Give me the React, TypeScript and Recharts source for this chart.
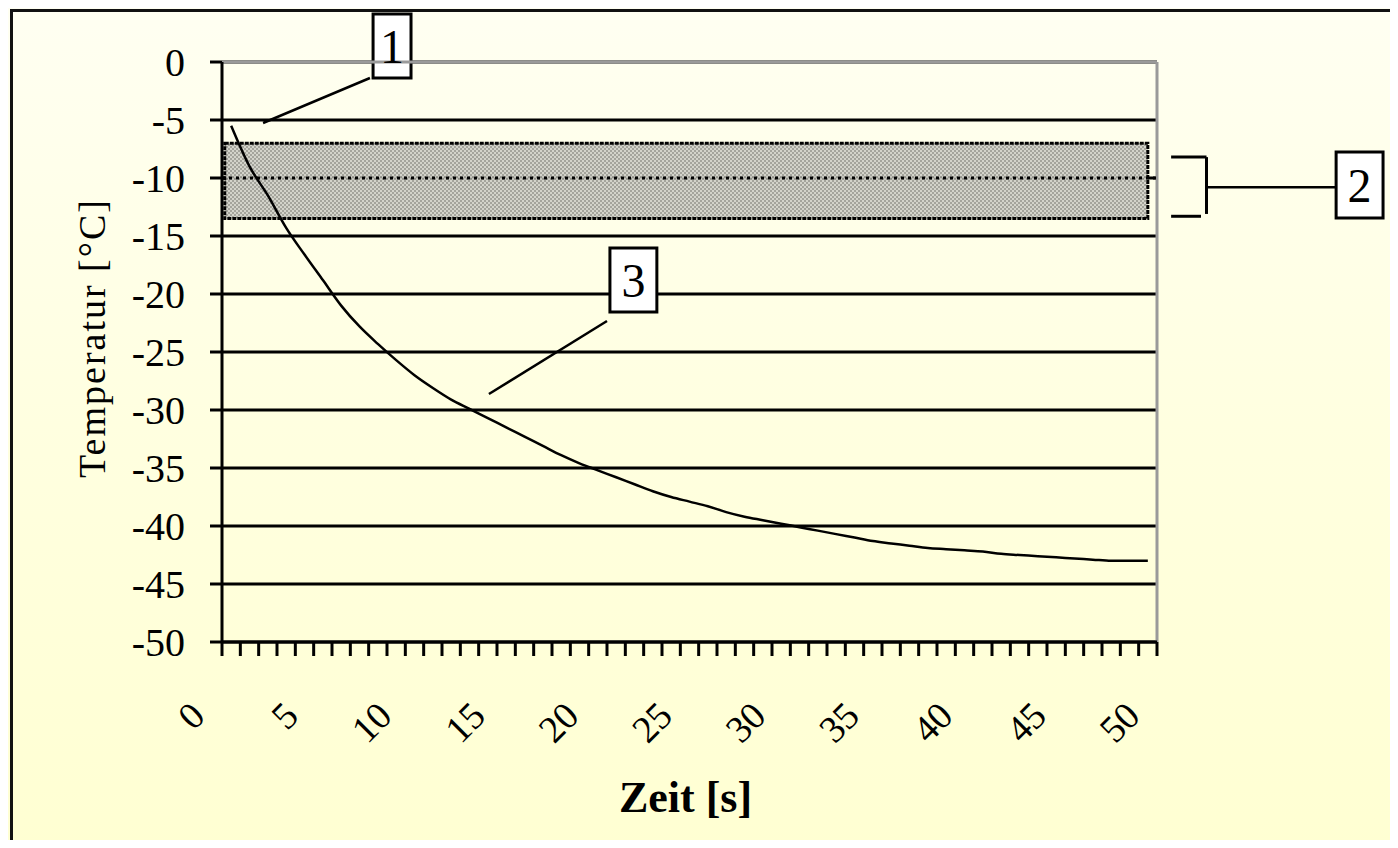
import React from 'react';
import {
  CartesianGrid,
  Label,
  Line,
  LineChart,
  ReferenceArea,
  ReferenceLine,
  XAxis,
  YAxis,
} from 'recharts';

// Zeit in Sekunden (Kategorien 0..50)
const times = [
  0, 1, 2, 3, 4, 5, 6, 7, 8, 9, 10, 11, 12, 13, 14, 15, 16, 17, 18, 19, 20,
  21, 22, 23, 24, 25, 26, 27, 28, 29, 30, 31, 32, 33, 34, 35, 36, 37, 38, 39,
  40, 41, 42, 43, 44, 45, 46, 47, 48, 49, 50,
];

// Temperaturverlauf [°C]
const temps = [
  -5.5, -9.0, -11.5, -14.3, -16.6, -18.8, -21.0, -22.8, -24.3, -25.7, -27.0,
  -28.1, -29.1, -29.9, -30.7, -31.5, -32.3, -33.1, -33.9, -34.6, -35.2, -35.8,
  -36.4, -37.0, -37.5, -37.9, -38.3, -38.8, -39.2, -39.5, -39.8, -40.1, -40.4,
  -40.7, -41.0, -41.3, -41.5, -41.7, -41.9, -42.0, -42.1, -42.2, -42.4, -42.5,
  -42.6, -42.7, -42.8, -42.9, -43.0, -43.0, -43.0,
];

const yTicks = [0, -5, -10, -15, -20, -25, -30, -35, -40, -45, -50];
const xLabelTicks = [0, 5, 10, 15, 20, 25, 30, 35, 40, 45, 50];
// Teilstriche liegen zwischen den Kategorien
const xMinorTicks = [...times.map((t) => t - 0.5), 50.5];

// Sollbereich (2) und Zielwert
const bandTop = -7;
const bandBottom = -13.5;
const bandTarget = -10;

const data = times.map((t, i) => ({ t, temp: temps[i] }));

const serif = '"Liberation Serif", "Times New Roman", serif';

function XLabelTick(props: any) {
  const { x, y, payload } = props;
  const ax = x - 15;
  const ay = y + 60;
  return (
    <text
      x={ax}
      y={ay}
      transform={`rotate(-45, ${ax}, ${ay})`}
      textAnchor='end'
      fontFamily={serif}
      fontSize={38}
      fill='#000'
    >
      {payload.value}
    </text>
  );
}

// nur Teilstriche, keine Beschriftung
function EmptyTick() {
  return <g />;
}

const boxLabel = (v: string) => (
  <Label value={v} position='center' fontSize={48} fontFamily={serif} fill='#000' />
);

export default function App() {
  return (
    <div
      style={{
        position: 'relative',
        width: 1398,
        height: 848,
        margin: -8,
        overflow: 'hidden',
        background: 'linear-gradient(to bottom, #fffff2 0%, #ffffe0 50%, #ffffd2 100%)',
      }}
    >
      {/* Rahmen */}
      <div style={{ position: 'absolute', left: 10, top: 9, width: 1400, height: 3, background: '#111' }} />
      <div style={{ position: 'absolute', left: 10, top: 9, width: 3, height: 860, background: '#111' }} />
      <div style={{ position: 'absolute', left: 605, top: 844, width: 800, height: 3, background: '#111' }} />

      <LineChart
        width={1398}
        height={848}
        data={data}
        margin={{ top: 62, right: 241, left: 142, bottom: 80 }}
        style={{ position: 'absolute', left: 0, top: 0 }}
      >
        <defs>
          <pattern id='hatch' width='4' height='4' patternUnits='userSpaceOnUse'>
            <rect width='4' height='4' fill='#cfcfc7' />
            <rect width='2' height='2' fill='#9c9c95' />
            <rect x='2' y='2' width='2' height='2' fill='#9c9c95' />
          </pattern>
        </defs>

        <CartesianGrid vertical={false} stroke='#000' strokeWidth={3} />

        <XAxis
          xAxisId={0}
          dataKey='t'
          type='number'
          domain={[-0.5, 50.5]}
          ticks={xMinorTicks}
          interval={0}
          tick={<EmptyTick />}
          tickSize={14}
          height={16}
          axisLine={{ stroke: '#000', strokeWidth: 3 }}
          tickLine={{ stroke: '#000', strokeWidth: 3 }}
        />
        <XAxis
          xAxisId='lbl'
          type='number'
          domain={[-0.5, 50.5]}
          ticks={xLabelTicks}
          interval={0}
          axisLine={false}
          tickLine={false}
          tickSize={0}
          tickMargin={0}
          height={110}
          tick={<XLabelTick />}
        >
          <Label
            content={(p: any) => {
              const vb = p.viewBox;
              return (
                <text
                  x={vb.x + vb.width / 2 - 4}
                  y={vb.y + vb.height + 44}
                  textAnchor='middle'
                  fontFamily={serif}
                  fontWeight='bold'
                  fontSize={44}
                  fill='#000'
                >
                  Zeit [s]
                </text>
              );
            }}
          />
        </XAxis>
        <YAxis
          type='number'
          domain={[-50, 0]}
          ticks={yTicks}
          interval={0}
          width={80}
          tickSize={12}
          tickMargin={25}
          tick={{ fill: '#000', fontSize: 40, fontFamily: serif }}
          axisLine={{ stroke: '#000', strokeWidth: 3 }}
          tickLine={{ stroke: '#000', strokeWidth: 3 }}
        >
          <Label
            content={(p: any) => {
              const vb = p.viewBox;
              const cx = vb.x - 50;
              const cy = vb.y + vb.height / 2 - 14;
              return (
                <text
                  x={cx}
                  y={cy}
                  transform={`rotate(-90, ${cx}, ${cy})`}
                  textAnchor='middle'
                  dominantBaseline='central'
                  fontFamily={serif}
                  fontSize={38}
                  letterSpacing={2}
                  fill='#000'
                >
                  Temperatur [°C]
                </text>
              );
            }}
          />
        </YAxis>

        {/* Plotrahmen oben und rechts grau */}
        <ReferenceLine y={0} stroke='#9a9a9a' strokeWidth={3} />
        <ReferenceLine x={50.5} stroke='#9a9a9a' strokeWidth={3} />

        <Line
          type='monotone'
          dataKey='temp'
          stroke='#000'
          strokeWidth={2.5}
          dot={false}
          isAnimationActive={false}
        />

        {/* Sollbereich (2) */}
        <ReferenceArea
          x1={-0.35}
          x2={50}
          y1={bandTop}
          y2={bandBottom}
          fill='url(#hatch)'
          fillOpacity={0.92}
          stroke='#000'
          strokeWidth={3}
          strokeDasharray='4 1'
        />
        <ReferenceLine y={bandTarget} stroke='#000' strokeWidth={3} strokeDasharray='3 4' />

        {/* Beschriftungen 1, 2, 3 */}
        <ReferenceLine
          segment={[{ x: 7.57, y: -1.38 }, { x: 1.74, y: -5.26 }]}
          stroke='#000'
          strokeWidth={2.5}
          ifOverflow='visible'
        />
        <ReferenceArea x1={7.74} x2={9.81} y1={4.14} y2={-1.38} fill='#fff' fillOpacity={1} stroke='#000' strokeWidth={3} ifOverflow='visible'>
          {boxLabel('1')}
        </ReferenceArea>

        <ReferenceLine segment={[{ x: 51.27, y: -8.2 }, { x: 53.2, y: -8.2 }]} stroke='#000' strokeWidth={3} ifOverflow='visible' />
        <ReferenceLine segment={[{ x: 53.2, y: -8.2 }, { x: 53.2, y: -13.1 }]} stroke='#000' strokeWidth={3} ifOverflow='visible' />
        <ReferenceLine segment={[{ x: 51.27, y: -13.3 }, { x: 52.9, y: -13.3 }]} stroke='#000' strokeWidth={3} ifOverflow='visible' />
        <ReferenceLine segment={[{ x: 53.2, y: -10.8 }, { x: 60.27, y: -10.8 }]} stroke='#000' strokeWidth={2.5} ifOverflow='visible' />
        <ReferenceArea x1={60.27} x2={62.83} y1={-7.76} y2={-13.45} fill='#fff' fillOpacity={1} stroke='#000' strokeWidth={3} ifOverflow='visible'>
          {boxLabel('2')}
        </ReferenceArea>

        <ReferenceLine
          segment={[{ x: 20.5, y: -22.33 }, { x: 14.06, y: -28.62 }]}
          stroke='#000'
          strokeWidth={2.5}
          ifOverflow='visible'
        />
        <ReferenceArea x1={20.66} x2={23.22} y1={-16.03} y2={-21.55} fill='#fff' fillOpacity={1} stroke='#000' strokeWidth={3} ifOverflow='visible'>
          {boxLabel('3')}
        </ReferenceArea>
      </LineChart>
    </div>
  );
}
